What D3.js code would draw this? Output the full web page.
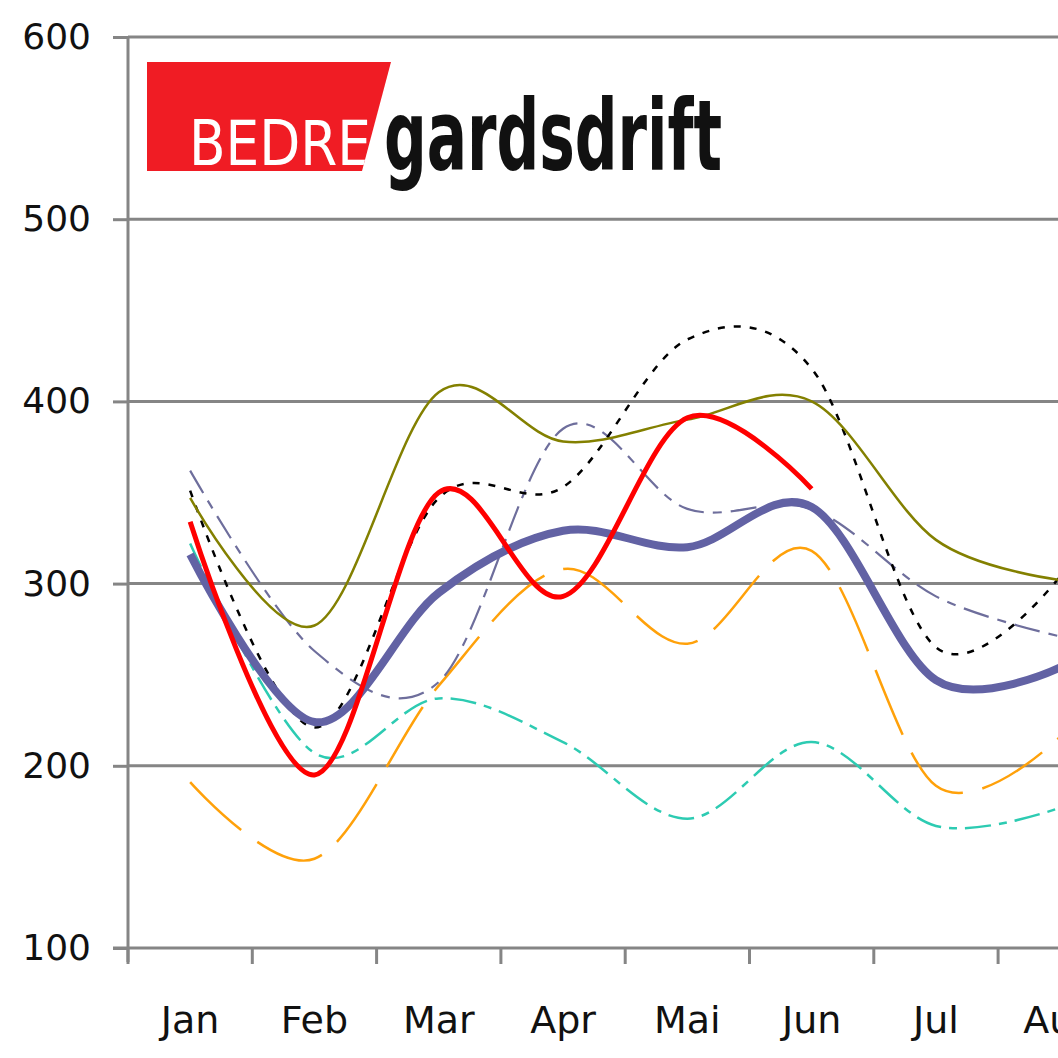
<!DOCTYPE html>
<html>
<head>
<meta charset="utf-8">
<script src="https://cdn.jsdelivr.net/npm/d3@7"></script>
<style>
  body { margin: 0; background: #fff; }
  svg { display: block; }
</style>
</head>
<body>
<svg id="chart"></svg>
<script>
// months shown on the x axis (the chart is cut off after Aug)
const months = ["Jan", "Feb", "Mar", "Apr", "Mai", "Jun", "Jul", "Aug"];
const yTicks = [100, 200, 300, 400, 500, 600];

// series values
const avgThick   = [316, 224, 295, 329, 320, 342, 247, 254];
const redSeries  = [334, 195, 350, 293, 391, 352];
const oliveLine  = [347, 277, 405, 378, 390, 400, 324, 302];
const blackDash  = [351, 221, 347, 353, 434, 418, 265, 304];
const slateDash  = [362, 263, 246, 385, 341, 341, 293, 271];
const orangeDash = [191, 149, 244, 308, 267, 318, 189, 216];
const tealDash   = [322, 207, 237, 213, 171, 213, 167, 177];

document.addEventListener('DOMContentLoaded', function() {
  const W = 1058, H = 1058;
  const left = 128, bottom = 948, top = 37;
  const step = 124.3;

  const svg = d3.select("#chart").attr("width", W).attr("height", H);

  const x = d3.scaleBand()
      .domain(months)
      .range([left, left + step * months.length])
      .paddingInner(0).paddingOuter(0);
  const y = d3.scaleLinear()
      .domain([100, 600])
      .range([bottom, top]);

  // gridlines
  svg.append("g")
    .selectAll("line")
    .data(yTicks.filter(d => d > 100))
    .enter().append("line")
      .attr("x1", left).attr("x2", W)
      .attr("y1", d => y(d)).attr("y2", d => y(d))
      .attr("stroke", "#858585")
      .attr("stroke-width", 3);

  // y axis
  const yAxis = svg.append("g")
      .attr("transform", `translate(${left},0)`)
      .call(d3.axisLeft(y).tickValues(yTicks).tickSize(15).tickPadding(22));
  yAxis.select(".domain").attr("stroke", "#858585").attr("stroke-width", 3)
      .attr("d", `M0,${bottom + 14}V${top}`);
  yAxis.selectAll(".tick line").attr("stroke", "#858585").attr("stroke-width", 3);
  yAxis.selectAll(".tick text")
      .attr("font-family", "DejaVu Sans, Verdana, sans-serif")
      .attr("font-size", 36)
      .attr("fill", "#111");

  // x axis line and tick marks between months
  svg.append("line")
      .attr("x1", left - 15).attr("x2", W)
      .attr("y1", bottom).attr("y2", bottom)
      .attr("stroke", "#858585").attr("stroke-width", 3);
  svg.append("g")
    .selectAll("line")
    .data(months)
    .enter().append("line")
      .attr("x1", d => x(d)).attr("x2", d => x(d))
      .attr("y1", bottom).attr("y2", bottom + 16)
      .attr("stroke", "#858585").attr("stroke-width", 3);
  svg.append("g")
    .selectAll("text")
    .data(months)
    .enter().append("text")
      .attr("x", d => x(d) + x.bandwidth() / 2)
      .attr("y", 1033)
      .attr("text-anchor", "middle")
      .attr("font-family", "DejaVu Sans, Verdana, sans-serif")
      .attr("font-size", 38)
      .attr("fill", "#111")
      .text(d => d);

  // logo
  const logo = svg.append("g");
  const redShape = [[147, 62], [391, 62], [362, 171], [147, 171]];
  logo.append("clipPath").attr("id", "redclip")
    .append("path").attr("d", d3.line()(redShape) + "Z");
  logo.append("path")
      .attr("d", d3.line()(redShape) + "Z")
      .attr("fill", "#f01c24");
  logo.append("text")
      .attr("clip-path", "url(#redclip)")
      .attr("x", 189).attr("y", 165)
      .attr("font-family", "Liberation Sans Narrow, DejaVu Sans Condensed, sans-serif")
      .attr("font-size", 62)
      .attr("textLength", 182)
      .attr("lengthAdjust", "spacingAndGlyphs")
      .attr("fill", "#fff")
      .text("BEDRE");
  logo.append("text")
      .attr("x", 384).attr("y", 170)
      .attr("font-family", "Liberation Sans Narrow, DejaVu Sans Condensed, sans-serif")
      .attr("font-weight", "bold")
      .attr("font-size", 98)
      .attr("textLength", 338)
      .attr("lengthAdjust", "spacingAndGlyphs")
      .attr("fill", "#111")
      .text("gardsdrift");

  const line = d3.line()
      .x((d, i) => x(months[i]) + x.bandwidth() / 2)
      .y(d => y(d))
      .curve(d3.curveCardinal.tension(0));

  const series = [
    { values: tealDash,   color: "#2dcbb2", width: 2.5, dash: "26,8,8,8" },
    { values: orangeDash, color: "#ffa10a", width: 2.5, dash: "70,20" },
    { values: slateDash,  color: "#6e6e9c", width: 2.2, dash: "26,9,9,9" },
    { values: blackDash,  color: "#000",    width: 2.5, dash: "7,9" },
    { values: oliveLine,  color: "#838000", width: 2.5, dash: null },
    { values: avgThick,   color: "#6262a4", width: 8,   dash: null },
    { values: redSeries,  color: "#ff0000", width: 5,   dash: null }
  ];

  svg.append("g")
    .selectAll("path")
    .data(series)
    .enter().append("path")
      .attr("d", d => line(d.values))
      .attr("fill", "none")
      .attr("stroke", d => d.color)
      .attr("stroke-width", d => d.width)
      .attr("stroke-dasharray", d => d.dash);
});
</script>
</body>
</html>
